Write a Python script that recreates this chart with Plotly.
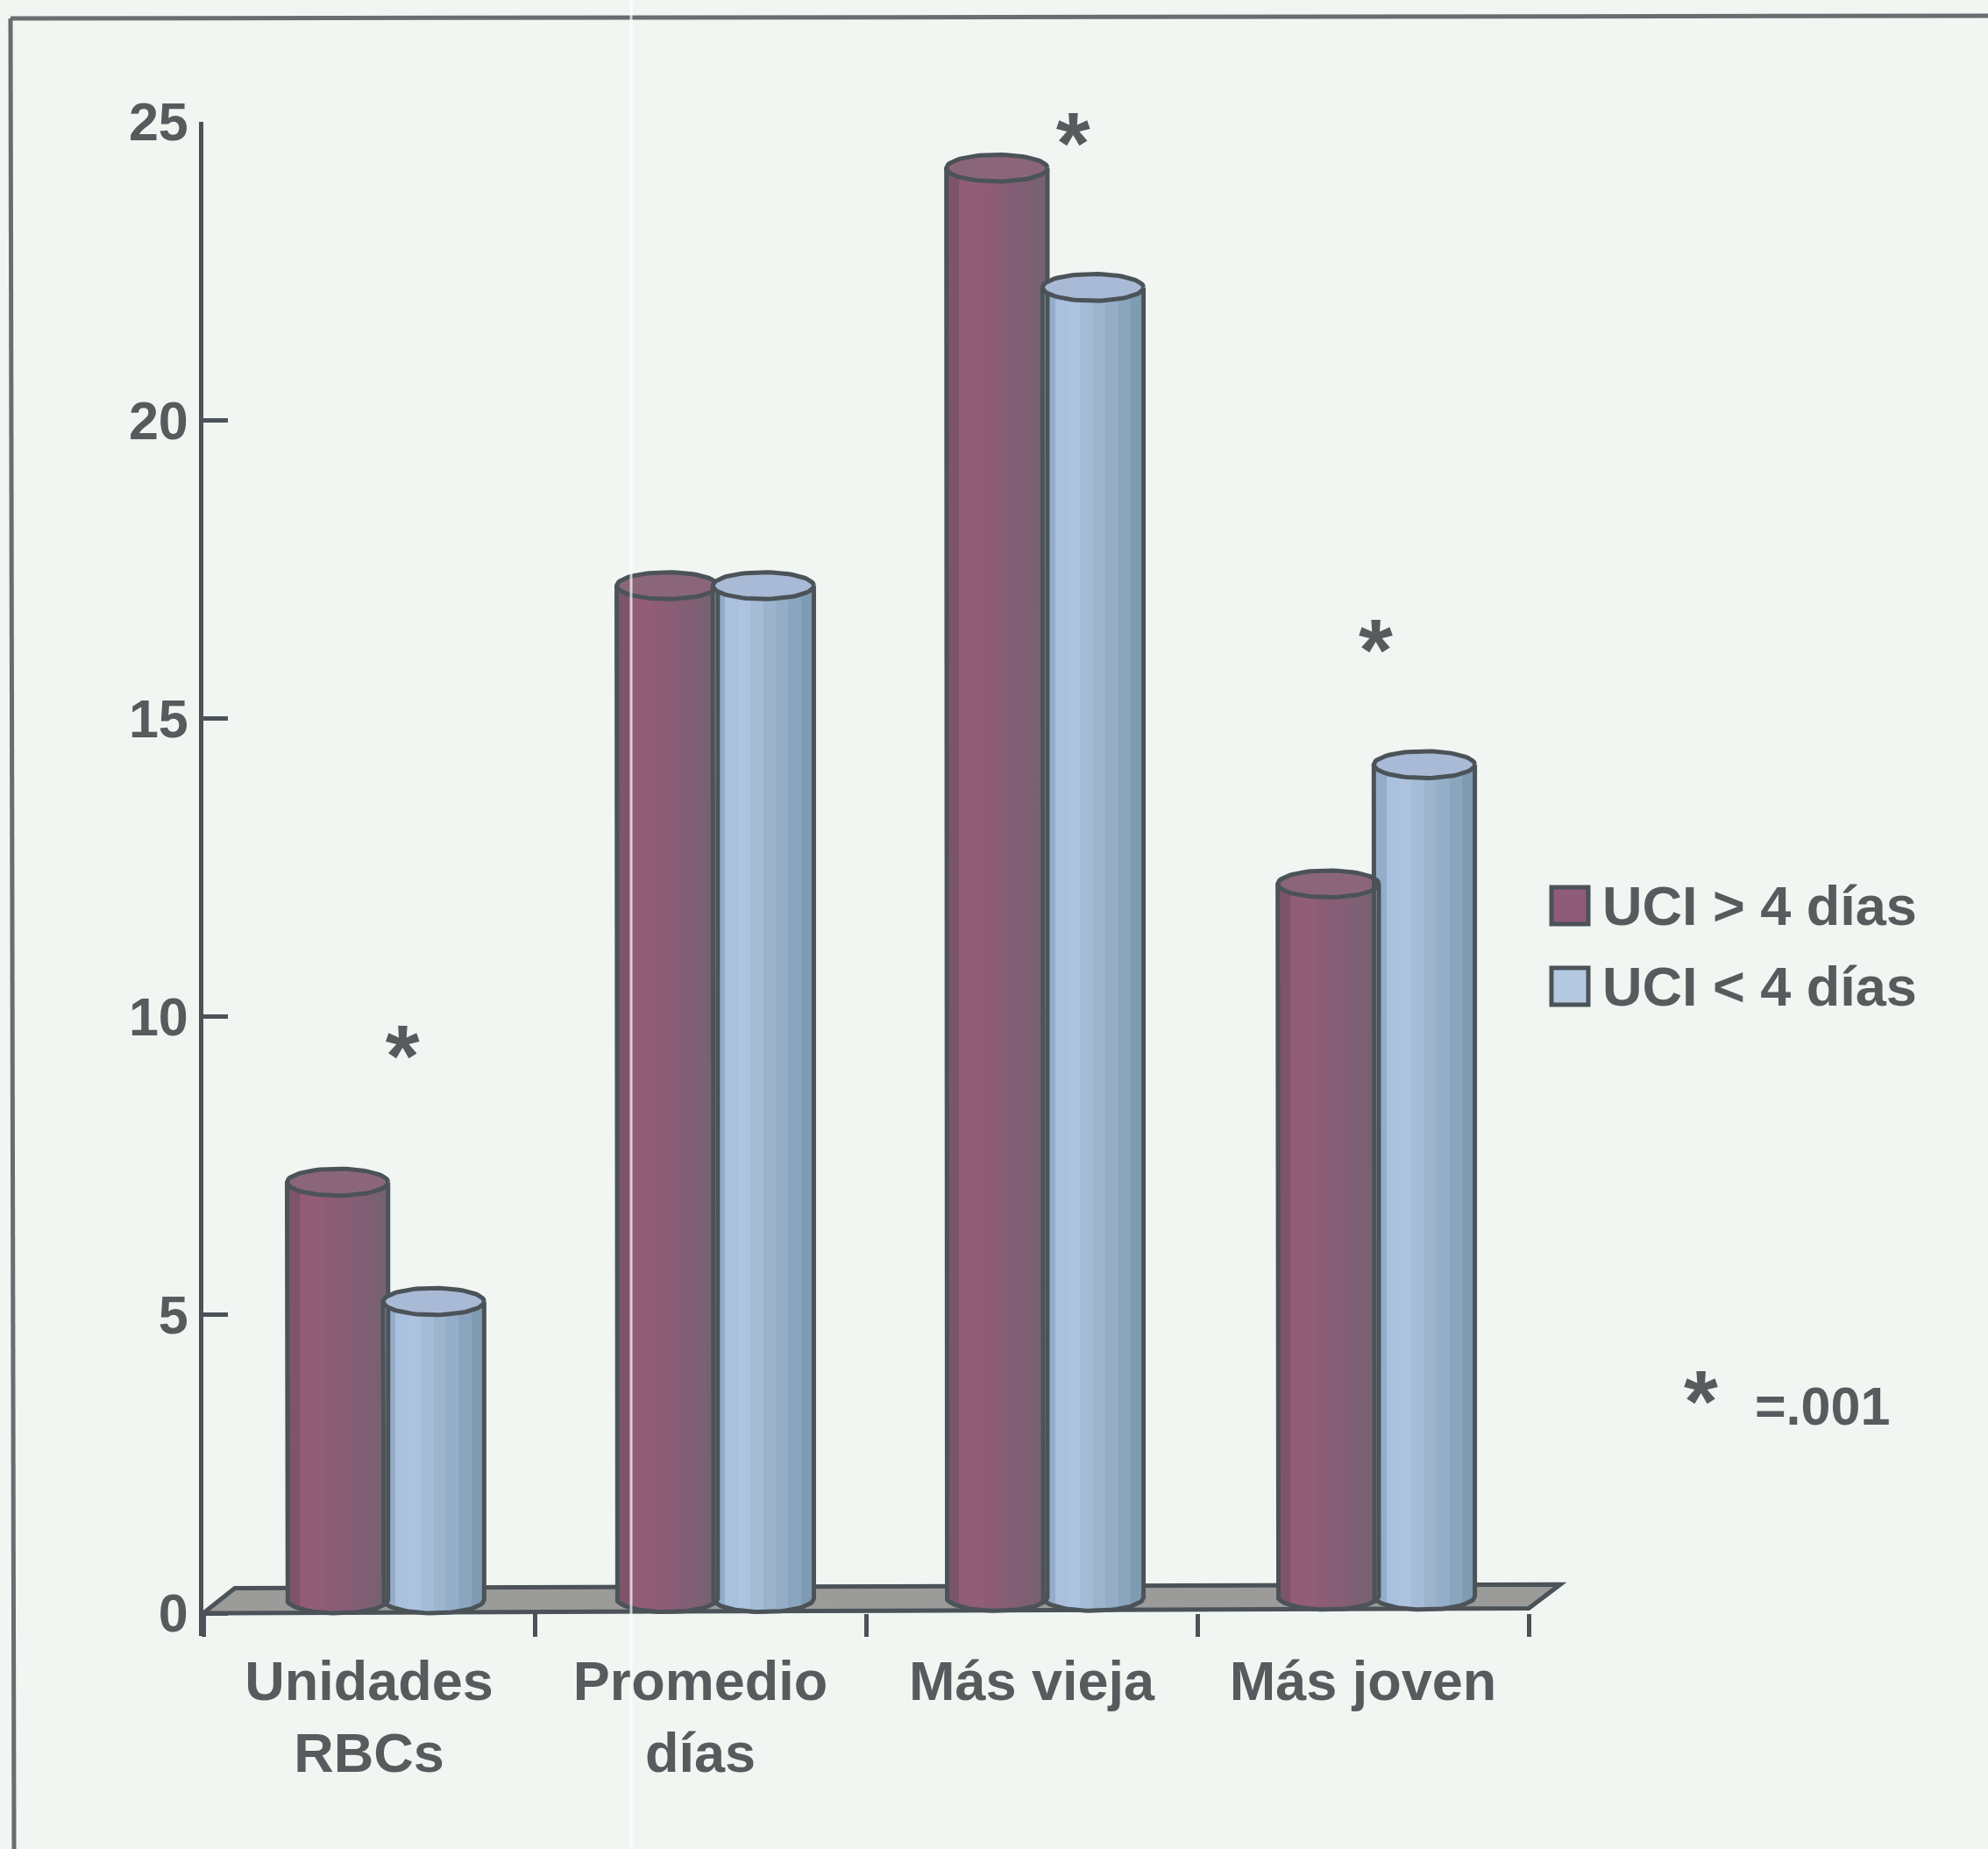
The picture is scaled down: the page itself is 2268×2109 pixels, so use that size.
import math
import plotly.graph_objects as go

W, H = 2268, 2109

categories = ["Unidades<br>RBCs", "Promedio<br>días", "Más vieja", "Más joven"]
series_names = ["UCI > 4 días", "UCI < 4 días"]
long_stay = [7, 17, 24, 12]
short_stay = [5, 17, 22, 14]
y_ticks = [0, 5, 10, 15, 20, 25]
star_x = [0.601, 2.625, 3.538]
star_y = [9.2, 24.5, 16.0]

TEXT = "#565b5e"
EDGE = "#4b5358"
BACKGROUND = "#f1f6f3"
FLOOR = "#9b9c9a"
RED_SHADES = ["#7d5469", "#925c78", "#925d77", "#8d5d76", "#885e76", "#825f75", "#7d6073", "#776271"]
BLUE_SHADES = ["#93acc8", "#a9c0de", "#adc3df", "#a5bcd6", "#9cb4cc", "#93aec6", "#8aa6bf", "#7f9bb2"]
FONT = "Liberation Sans"

# page-pixel geometry of the plot area
PER_CATEGORY = 378.0
PER_UNIT = 68.04
LEFT = 232
ZERO_Y = 1840
TOP_Y = 139
X_RANGE = [0, 4.2]
Y_RANGE = [-0.38, 25]
RIGHT = LEFT + X_RANGE[1] * PER_CATEGORY
BOTTOM = ZERO_Y + (-Y_RANGE[0]) * PER_UNIT

CYL_WIDTH = 0.305      # cylinder diameter in category units
CYL_RY = 0.225         # elliptical rim half-height in value units
GROUP_SHIFT = [0.01, 0.005, 0.0, 0.0]
SLICES = 24
LINE = 5


def rim_offset(t):
    return CYL_RY * (1 - math.sqrt(max(0.0, 1 - t * t)))


def bold(size):
    return dict(size=size, color=TEXT, family=FONT, weight="bold")


fig = go.Figure()


def add_cylinder(center, value, shades, cap_color, lift):
    half = CYL_WIDTH / 2
    step = CYL_WIDTH / SLICES
    xs, bases, heights, colors = [], [], [], []
    for i in range(SLICES):
        t = (i + 0.5) / SLICES * 2 - 1
        xs.append(center - half + (i + 0.5) * step)
        bases.append(lift + rim_offset(t))
        heights.append(value - lift)
        colors.append(shades[min(len(shades) - 1, i * len(shades) // SLICES)])
    fig.add_trace(go.Bar(
        x=xs, y=heights, base=bases, width=step * 1.08,
        marker=dict(color=colors, line=dict(width=0)),
        hoverinfo="skip", showlegend=False,
    ))
    # top cap
    steps = list(range(0, 73))
    ex = [center + half * math.cos(2 * math.pi * k / 72) for k in steps]
    ey = [value + CYL_RY + CYL_RY * math.sin(2 * math.pi * k / 72) for k in steps]
    fig.add_trace(go.Scatter(
        x=ex, y=ey, mode="lines", fill="toself", fillcolor=cap_color,
        line=dict(color=EDGE, width=LINE), hoverinfo="skip", showlegend=False,
    ))
    # silhouette: sides and lower arc
    arc = list(range(0, 37))
    ox = [center - half] + [center - half * math.cos(math.pi * k / 36) for k in arc] + [center + half]
    oy = ([value + CYL_RY]
          + [lift + CYL_RY - CYL_RY * math.sin(math.pi * k / 36) for k in arc]
          + [value + CYL_RY])
    fig.add_trace(go.Scatter(
        x=ox, y=oy, mode="lines", line=dict(color=EDGE, width=LINE),
        hoverinfo="skip", showlegend=False,
    ))


for g in range(len(categories)):
    lift = 0.02 * g
    add_cylinder(g + 0.395 + GROUP_SHIFT[g], long_stay[g], RED_SHADES, "#8b6679", lift)
    add_cylinder(g + 0.685 + GROUP_SHIFT[g], short_stay[g], BLUE_SHADES, "#a9bad6", lift)

# significance asterisks above the flagged groups
fig.add_trace(go.Scatter(
    x=star_x, y=star_y, mode="text", text=["*"] * len(star_x),
    textfont=bold(100), textposition="middle center",
    hoverinfo="skip", showlegend=False, cliponaxis=False,
))

# key, placed in page coordinates
KEY_COLORS = ["#8f5b79", "#b4c9e0"]
KEY_TOPS = [1012, 1104]
KEY_SIZE = 42
key_shapes = []
for name, top, color in zip(series_names, KEY_TOPS, KEY_COLORS):
    key_shapes.append(dict(
        type="rect", xref="paper", yref="paper",
        x0=1770 / W, x1=(1770 + KEY_SIZE) / W,
        y0=1 - (top + KEY_SIZE) / H, y1=1 - top / H,
        fillcolor=color, line=dict(color=EDGE, width=5),
    ))
    fig.add_annotation(x=1826 / W, y=1 - (top + KEY_SIZE / 2) / H, xref="paper", yref="paper",
                       text=name, showarrow=False, xanchor="left", yanchor="middle", font=bold(63))

fig.add_annotation(x=1940 / W, y=1 - 1598 / H, xref="paper", yref="paper", text="*",
                   showarrow=False, xanchor="center", yanchor="middle", font=bold(100))
fig.add_annotation(x=2079 / W, y=1 - 1604 / H, xref="paper", yref="paper", text="=.001",
                   showarrow=False, xanchor="center", yanchor="middle", font=bold(61))

fig.update_layout(
    width=W, height=H,
    margin=dict(l=0, r=0, t=0, b=0, pad=0),
    paper_bgcolor=BACKGROUND, plot_bgcolor=BACKGROUND,
    barmode="overlay", bargap=0, showlegend=False,
    font=dict(family=FONT, color=TEXT),
    xaxis=dict(
        domain=[LEFT / W, RIGHT / W], range=X_RANGE, showgrid=False, zeroline=False,
        showline=False, automargin=False,
        anchor="free", position=1 - ZERO_Y / H,
        tickvals=[i + 0.5 for i in range(4)], ticktext=categories, ticks="",
        ticklabelstandoff=35,
        tickfont=bold(63),
        minor=dict(tickvals=[0, 1, 2, 3, 4], ticks="outside", ticklen=26, tickwidth=5,
                   tickcolor=EDGE, showgrid=False),
    ),
    yaxis=dict(
        domain=[1 - BOTTOM / H, 1 - TOP_Y / H], range=Y_RANGE, showgrid=False, zeroline=False,
        showline=True, linecolor=EDGE, linewidth=5, automargin=False,
        tickvals=y_ticks, ticks="inside", ticklen=28, tickwidth=5, tickcolor=EDGE,
        ticklabelstandoff=0,
        tickfont=bold(61),
    ),
    shapes=[
        # grey floor of the chart, sitting behind the cylinders
        dict(type="path", xref="x", yref="y", layer="below",
             path="M 0 0 L 4 0.08 L 4.095 0.48 L 0.095 0.42 Z",
             fillcolor=FLOOR, line=dict(color=EDGE, width=LINE)),
        # dark rules along the top and left of the panel
        dict(type="line", xref="paper", yref="paper", x0=12 / W, x1=1, y0=1 - 21 / H, y1=1 - 18 / H,
             line=dict(color="#686d6f", width=5), layer="below"),
        dict(type="line", xref="paper", yref="paper", x0=16 / W, x1=12 / W, y0=0, y1=1 - 21 / H,
             line=dict(color="#686d6f", width=5), layer="below"),
        # pale vertical streak
        dict(type="line", xref="paper", yref="paper", x0=720 / W, x1=720 / W, y0=0, y1=1,
             line=dict(color="rgba(255,255,255,0.7)", width=3), layer="above"),
    ] + key_shapes,
)

fig.write_html("out.html")
